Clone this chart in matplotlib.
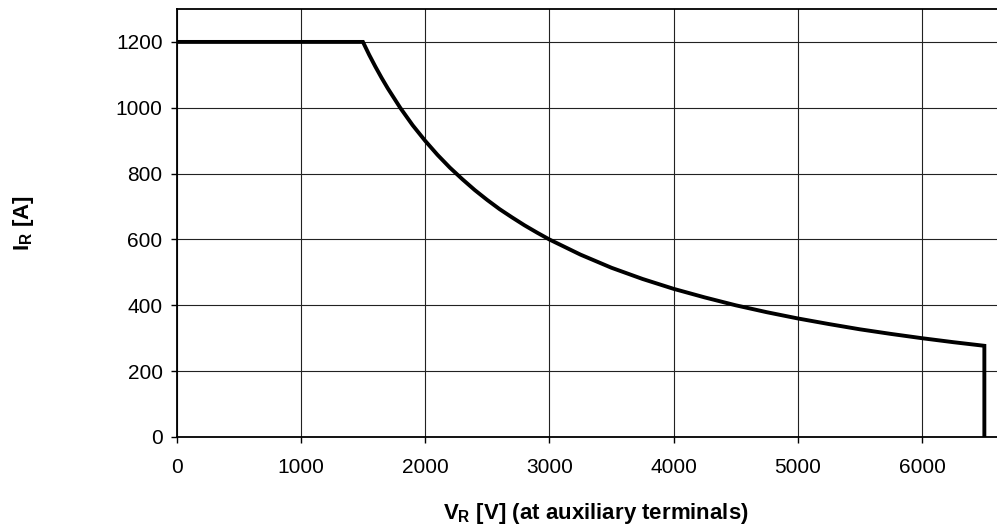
import matplotlib
matplotlib.use('Agg')
import matplotlib.pyplot as plt

# safe operating area: reverse current vs voltage
v_r = [0, 1500, 1550, 1600, 1650, 1700, 1800, 1900, 2000, 2100, 2200,
       2300, 2400, 2500, 2600, 2700, 2800, 2900, 3000,
       3250, 3500, 3750, 4000, 4250, 4500, 4750, 5000, 5250, 5500,
       5750, 6000, 6250, 6500, 6500]
i_r = [1200, 1200, 1161, 1125, 1091, 1059, 1000, 947, 900, 857, 818,
       783, 750, 720, 692, 667, 643, 621, 600,
       554, 514, 480, 450, 424, 400, 379, 360, 343, 327,
       313, 300, 288, 277, 0]

x_ticks = [0, 1000, 2000, 3000, 4000, 5000, 6000]
y_ticks = [0, 200, 400, 600, 800, 1000, 1200]

plt.rcParams['font.family'] = ['Liberation Sans', 'DejaVu Sans']
plt.rcParams['mathtext.fontset'] = 'custom'
plt.rcParams['mathtext.rm'] = 'Liberation Sans:bold'
plt.rcParams['mathtext.it'] = 'Liberation Sans:bold'
plt.rcParams['mathtext.bf'] = 'Liberation Sans:bold'

fig = plt.figure(figsize=(9.97, 5.29), dpi=100)
ax = fig.add_axes([176.5 / 997, 92 / 529, 870 / 997, 428 / 529])

ax.plot(v_r, i_r, color='black', linewidth=2.8, solid_joinstyle='miter', zorder=3)

ax.set_xlim(0, 7000)
ax.set_ylim(0, 1300)
ax.set_xticks(x_ticks)
ax.set_yticks(y_ticks)
ax.tick_params(direction='out', length=4, width=1, labelsize=15, color='black')
ax.tick_params(axis='x', pad=11)
ax.tick_params(axis='y', pad=6)
ax.grid(True, color='#222222', linewidth=0.8)

for s in ax.spines.values():
    s.set_linewidth(1.3)
    s.set_color('black')

ax.set_xlabel(r'$V_R$ [V] (at auxiliary terminals)', fontsize=16, fontweight='bold', va='center')
ax.xaxis.set_label_coords((596 - 176.5) / 870, -(513 - 437) / 428)
ax.set_ylabel(r'$I_R$ [A]', fontsize=16, fontweight='bold', va='center')
ax.yaxis.set_label_coords(-(176.5 - 23) / 870, 0.5)

fig.savefig('out.png', dpi=100)
